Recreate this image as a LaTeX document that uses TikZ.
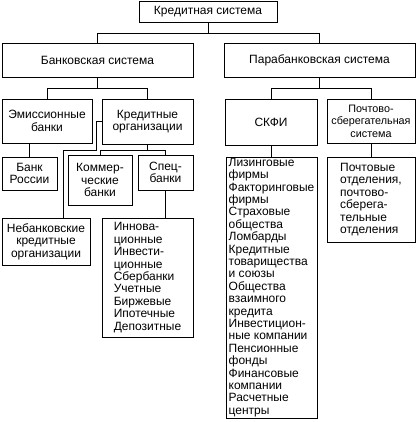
\documentclass[tikz,border=0pt]{standalone}
\usepackage{fontspec}
\setmainfont{Liberation Sans}
\begin{document}
\begin{tikzpicture}[x=1pt, y=-1pt, line width=0.7pt,
  box/.style={draw, inner sep=0pt, align=center, font=\fontsize{12}{12.4}\selectfont},
  listbox/.style={box, align=left}]
  \useasboundingbox (0,0) rectangle (417,422);
  % levels 1 and 2
  \node[box, minimum width=138pt, minimum height=21pt] (kredsys) at (208,11.5) {Кредитная система};
  \node[box, minimum width=191pt, minimum height=34pt] (bank) at (97.5,60) {Банковская система};
  \node[box, minimum width=191pt, minimum height=34pt] (para) at (319.5,60) {Парабанковская система};
  % level 3
  \node[box, minimum width=90pt, minimum height=44pt] (emis) at (47,121) {Эмиссионные\\банки};
  \node[box, minimum width=91pt, minimum height=45pt] (kred) at (147.5,121.5) {Кредитные\\организации};
  \node[box, minimum width=92pt, minimum height=46pt] (skfi) at (271,122) {СКФИ};
  \node[box, minimum width=88pt, minimum height=44pt, font=\fontsize{10.8}{12.4}\selectfont] (pocht) at (371,121)
    {Почтово-\\сберегательная\\система};
  % level 4
  \node[box, minimum width=55pt, minimum height=33pt] (bankr) at (29.5,173.5) {Банк\\России};
  \node[box, minimum width=64pt, minimum height=50pt] (komm) at (100,180) {Коммер-\\ческие\\банки};
  \node[box, minimum width=55pt, minimum height=35pt] (spec) at (165.5,172.5) {Спец-\\банки};
  \node[box, minimum width=88pt, minimum height=47pt] (nebank) at (46,241.5) {Небанковские\\кредитные\\организации};
  \node[listbox, minimum width=91pt, minimum height=119pt] (innov) at (147.5,277.5)
    {Иннова-\\ционные\\Инвести-\\ционные\\Сбербанки\\Учетные\\Биржевые\\Ипотечные\\Депозитные};
  \node[listbox, minimum width=91pt, minimum height=261pt] (finlist) at (271.5,287.5)
    {Лизинговые\\фирмы\\Факторинговые\\фирмы\\Страховые\\общества\\Ломбарды\\Кредитные\\товарищества\\и союзы\\Общества\\взаимного\\кредита\\Инвестицион-\\ные компании\\Пенсионные\\фонды\\Финансовые\\компании\\Расчетные\\центры};
  \node[listbox, minimum width=88pt, minimum height=85pt] (otd) at (371,199.5)
    {Почтовые\\отделения,\\почтово-\\сберега-\\тельные\\отделения};
  % connectors
  \draw (kredsys.south) -- ++(0,11) coordinate (topbus);
  \draw (bank.north) |- (topbus) -| (para.north);
  \draw (bank.south) -- ++(0,11) coordinate (bankbus);
  \draw (emis.north) |- (bankbus) -| (kred.north);
  \draw (para.south) -- ++(0,11) coordinate (parabus);
  \draw (skfi.north) |- (parabus) -| (pocht.north);
  \draw (emis.south -| bankr.north) -- (bankr.north);
  \draw (kred.south) -- ++(0,6) coordinate (kredbus);
  \draw (komm.north) |- (kredbus) -| (spec.north);
  \coordinate (nbdrop) at (63,150);
  \draw (kred.west) -- ++(-5,0) |- (nbdrop) -- (nbdrop |- nebank.north);
  \draw (spec.south) -- (spec.south |- innov.north);
  \draw (skfi.south) -- (skfi.south |- finlist.north);
  \draw (pocht.south) -- (pocht.south |- otd.north);
\end{tikzpicture}
\end{document}
